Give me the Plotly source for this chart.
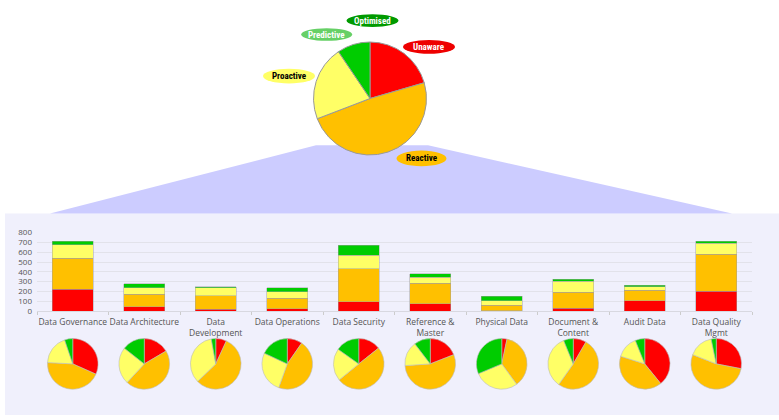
import numpy as np
import plotly.graph_objects as go

W, H = 779, 420

categories = ["Data Governance", "Data Architecture", "Data<br>Development", "Data Operations",
              "Data Security", "Reference &<br>Master", "Physical Data", "Document &<br>Content",
              "Audit Data", "Data Quality<br>Mgmt"]
unaware = [225, 46, 17, 23, 96, 73, 5, 27, 103, 200]
reactive = [314, 126, 138, 109, 334, 210, 55, 166, 107, 377]
proactive = [135, 66, 85, 63, 139, 60, 43, 110, 37, 113]
optimised = [37, 40, 7, 43, 102, 40, 47, 20, 16, 23]
y_ticks = [0, 100, 200, 300, 400, 500, 600, 700, 800]

RED, ORANGE, YELLOW, GREEN = "#FF0000", "#FFC000", "#FFFF66", "#00CC00"
seg_colors = [RED, ORANGE, YELLOW, GREEN]
series = [unaware, reactive, proactive, optimised]
series_names = ["Unaware", "Reactive", "Proactive", "Optimised"]


def px(x):
    return x / W


def py(y):
    return 1 - y / H


fig = go.Figure()

# stacked bars
for name, vals, col in zip(series_names, series, seg_colors):
    fig.add_trace(go.Bar(x=categories, y=vals, name=name, marker_color=col,
                         marker_line=dict(color="rgba(160,160,160,0.6)", width=0.8),
                         showlegend=False, hoverinfo="y"))

# overall pie (sum of every area)
totals = [int(np.sum(s)) for s in series]
fig.add_trace(go.Pie(values=totals, labels=series_names,
                     marker=dict(colors=seg_colors, line=dict(color="#999999", width=1)),
                     sort=False, direction="clockwise", rotation=0, textinfo="none",
                     domain=dict(x=[px(312), px(428)], y=[py(153), py(37)]), showlegend=False))

# small pies, one per area
plot_l, plot_r = 37, 752
step = (plot_r - plot_l) / len(categories)
for i in range(len(categories)):
    cx = plot_l + step * (i + 0.5)
    vals = [s[i] for s in series]
    fig.add_trace(go.Pie(values=vals, labels=series_names,
                         marker=dict(colors=seg_colors, line=dict(color="#BBBBBB", width=0.6)),
                         sort=False, direction="clockwise", rotation=0, textinfo="none",
                         domain=dict(x=[px(cx - 26), px(cx + 26)], y=[py(393.5), py(341.5)]),
                         showlegend=False))

shapes = [
    dict(type="rect", xref="paper", yref="paper", x0=px(5), x1=px(779), y0=0, y1=py(213),
         fillcolor="#F0F0FC", line_width=0, layer="below"),
    dict(type="path", xref="paper", yref="paper",
         path=f"M {px(316)} {py(143)} L {px(428)} {py(143)} L {px(732)} {py(213)} L {px(50)} {py(213)} Z",
         fillcolor="#CCCCFF", line_width=0, layer="below"),
]

labels_spec = [
    ("Optimised", 372.5, 15, 52, 13, "#009A00", "white"),
    ("Predictive", 326.7, 29.3, 51, 13, "#66D066", "white"),
    ("Unaware", 429, 42, 52, 14, "#EE0000", "white"),
    ("Proactive", 289, 72, 52, 15, "#FFFF66", "black"),
    ("Reactive", 421.5, 156.5, 50, 16, "#FFC000", "black"),
]
annotations = []
for text, cx, cy, w, h, fill, fc in labels_spec:
    shapes.append(dict(type="circle", xref="paper", yref="paper",
                       x0=px(cx - w / 2), x1=px(cx + w / 2), y0=py(cy + h / 2), y1=py(cy - h / 2),
                       fillcolor=fill, line_width=0, layer="above"))
    annotations.append(dict(text=f"<b>{text}</b>", x=px(cx), y=py(cy), xref="paper", yref="paper",
                            xanchor="center", yanchor="middle", showarrow=False,
                            font=dict(family="Liberation Sans Narrow, Roboto Condensed, Liberation Sans, Arial",
                                      size=9, color=fc)))

fig.update_layout(
    width=W, height=H, margin=dict(l=0, r=0, t=0, b=0),
    paper_bgcolor="white", plot_bgcolor="rgba(0,0,0,0)",
    barmode="stack", bargap=0.42,
    shapes=shapes, annotations=annotations,
    xaxis=dict(domain=[px(plot_l), px(plot_r)], tickfont=dict(family="Open Sans", size=8.5, color="#555555"),
               showgrid=False, ticks="outside", tickson="boundaries", ticklen=3, tickcolor="#CCCCCC",
               showline=True, linecolor="#D8D8E0", tickangle=0, ticklabelstandoff=3),
    yaxis=dict(domain=[py(313.3), py(232.7)], range=[0, 800], tickvals=y_ticks,
               tickfont=dict(family="Open Sans", size=8, color="#555555"),
               gridcolor="#E2E2EA", gridwidth=1, zeroline=False, ticklabelstandoff=4),
)

fig.write_html("out.html", config={"displayModeBar": False},
               post_script="document.body.style.margin='0px';document.body.style.overflow='hidden';")
